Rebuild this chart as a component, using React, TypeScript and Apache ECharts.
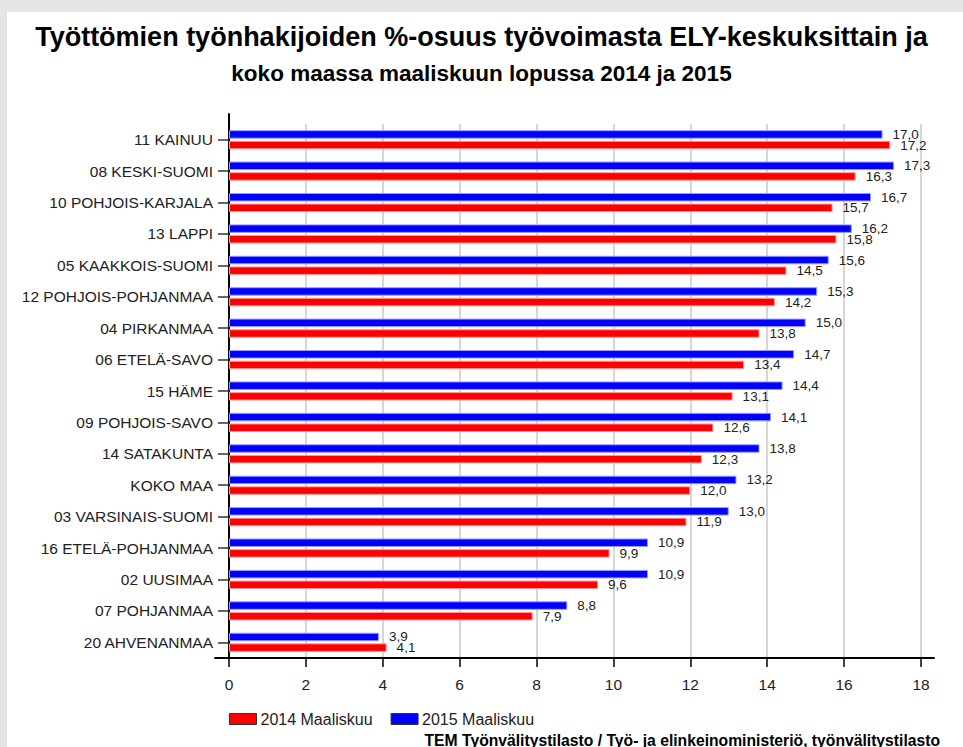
import React, { useEffect, useRef } from "react";
import * as echarts from "echarts";

const categories = [
  "11 KAINUU",
  "08 KESKI-SUOMI",
  "10 POHJOIS-KARJALA",
  "13 LAPPI",
  "05 KAAKKOIS-SUOMI",
  "12 POHJOIS-POHJANMAA",
  "04 PIRKANMAA",
  "06 ETELÄ-SAVO",
  "15 HÄME",
  "09 POHJOIS-SAVO",
  "14 SATAKUNTA",
  "KOKO MAA",
  "03 VARSINAIS-SUOMI",
  "16 ETELÄ-POHJANMAA",
  "02 UUSIMAA",
  "07 POHJANMAA",
  "20 AHVENANMAA",
];

const values2015 = [17.0, 17.3, 16.7, 16.2, 15.6, 15.3, 15.0, 14.7, 14.4, 14.1, 13.8, 13.2, 13.0, 10.9, 10.9, 8.8, 3.9];
const values2014 = [17.2, 16.3, 15.7, 15.8, 14.5, 14.2, 13.8, 13.4, 13.1, 12.6, 12.3, 12.0, 11.9, 9.9, 9.6, 7.9, 4.1];

const series2014Name = "2014 Maaliskuu";
const series2015Name = "2015 Maaliskuu";

const titleText = "Työttömien työnhakijoiden %-osuus työvoimasta ELY-keskuksittain ja";
const subtitleText = "koko maassa maaliskuun lopussa 2014 ja 2015";
const footerText = "TEM Työnvälitystilasto / Työ- ja elinkeinoministeriö, työnvälitystilasto";

const FONT = "'Liberation Sans', Arial, sans-serif";

export default function App() {
  const ref = useRef<HTMLDivElement>(null);

  useEffect(() => {
    document.body.style.margin = "0";
    if (!ref.current) return;
    const chart = echarts.init(ref.current, undefined, { renderer: "svg" });
    const fmt = (p: any) => Number(p.value).toFixed(1).replace(".", ",");
    const labelStyle = {
      show: true,
      position: "right" as const,
      distance: 10,
      formatter: fmt,
      fontSize: 13.5,
      fontFamily: FONT,
      color: "#222",
    };
    chart.setOption({
      animation: false,
      textStyle: { fontFamily: FONT },
      title: [
        {
          text: titleText,
          left: "center",
          top: 23,
          padding: 0,
          textStyle: { fontSize: 27, fontWeight: "bold", color: "#000", fontFamily: FONT },
        },
        {
          text: subtitleText,
          left: "center",
          top: 62,
          padding: 0,
          textStyle: { fontSize: 22.5, fontWeight: "bold", color: "#000", fontFamily: FONT },
        },
        {
          text: footerText,
          right: 23,
          top: 732,
          padding: 0,
          textStyle: { fontSize: 15.7, fontWeight: "bold", color: "#000", fontFamily: FONT },
        },
      ],
      legend: {
        data: [series2014Name, series2015Name],
        left: 229,
        top: 711,
        padding: 0,
        itemWidth: 27,
        itemHeight: 11,
        itemGap: 18,
        icon: "rect",
        textStyle: { fontSize: 16, color: "#222", fontFamily: FONT, padding: [0, 0, 0, -1] },
        itemStyle: { borderColor: "#333", borderWidth: 1 },
      },
      grid: [
        { left: 229, right: 42, top: 124, bottom: 89 },
        { left: 215, right: 29, top: 124, bottom: 89 },
        { left: 229, width: 1, top: 114, bottom: 89 },
      ],
      xAxis: [
        {
          type: "value",
          gridIndex: 0,
          min: 0,
          max: 18,
          interval: 2,
          axisLine: { show: false },
          axisTick: { show: true, length: 9, lineStyle: { color: "#000", width: 1.5 } },
          axisLabel: { fontSize: 15.5, color: "#222", margin: 18, fontFamily: FONT },
          splitLine: { show: true, lineStyle: { color: "#c8c8c8", width: 1.5 } },
        },
        {
          type: "value",
          gridIndex: 1,
          min: 0,
          max: 1,
          axisLine: { show: true, lineStyle: { color: "#000", width: 2 } },
          axisTick: { show: false },
          axisLabel: { show: false },
          splitLine: { show: false },
        },
        {
          type: "value",
          gridIndex: 2,
          show: false,
        },
      ],
      yAxis: [
        {
          type: "category",
          gridIndex: 0,
          data: categories,
          inverse: true,
          axisLine: { show: false },
          axisTick: { show: true, alignWithLabel: true, length: 11, lineStyle: { color: "#333", width: 1.5 } },
          axisLabel: { fontSize: 15.5, color: "#222", margin: 16, fontFamily: FONT },
          splitLine: { show: false },
        },
        {
          type: "value",
          gridIndex: 1,
          show: false,
        },
        {
          type: "value",
          gridIndex: 2,
          min: 0,
          max: 1,
          axisLine: { show: true, onZero: false, lineStyle: { color: "#000", width: 2 } },
          axisTick: { show: false },
          axisLabel: { show: false },
          splitLine: { show: false },
        },
      ],
      series: [
        {
          name: series2015Name,
          type: "bar",
          xAxisIndex: 0,
          yAxisIndex: 0,
          data: values2015,
          barWidth: 8.5,
          barGap: "25%",
          itemStyle: { color: "#0000ff", borderColor: "#9a9aff", borderWidth: 1 },
          label: labelStyle,
        },
        {
          name: series2014Name,
          type: "bar",
          xAxisIndex: 0,
          yAxisIndex: 0,
          data: values2014,
          barWidth: 8.5,
          barGap: "25%",
          itemStyle: { color: "#ff0000", borderColor: "#ff9a9a", borderWidth: 1 },
          label: labelStyle,
        },
      ],
    });
    return () => chart.dispose();
  }, []);

  return (
    <div style={{ position: "absolute", left: 0, top: 0, width: 963, height: 747, background: "#e5e5e5", overflow: "hidden" }}>
      <div style={{ position: "absolute", left: 7, top: 12, right: 0, bottom: 0, background: "#ffffff" }} />
      <div ref={ref} style={{ position: "absolute", left: 0, top: 0, width: 963, height: 747 }} />
    </div>
  );
}
